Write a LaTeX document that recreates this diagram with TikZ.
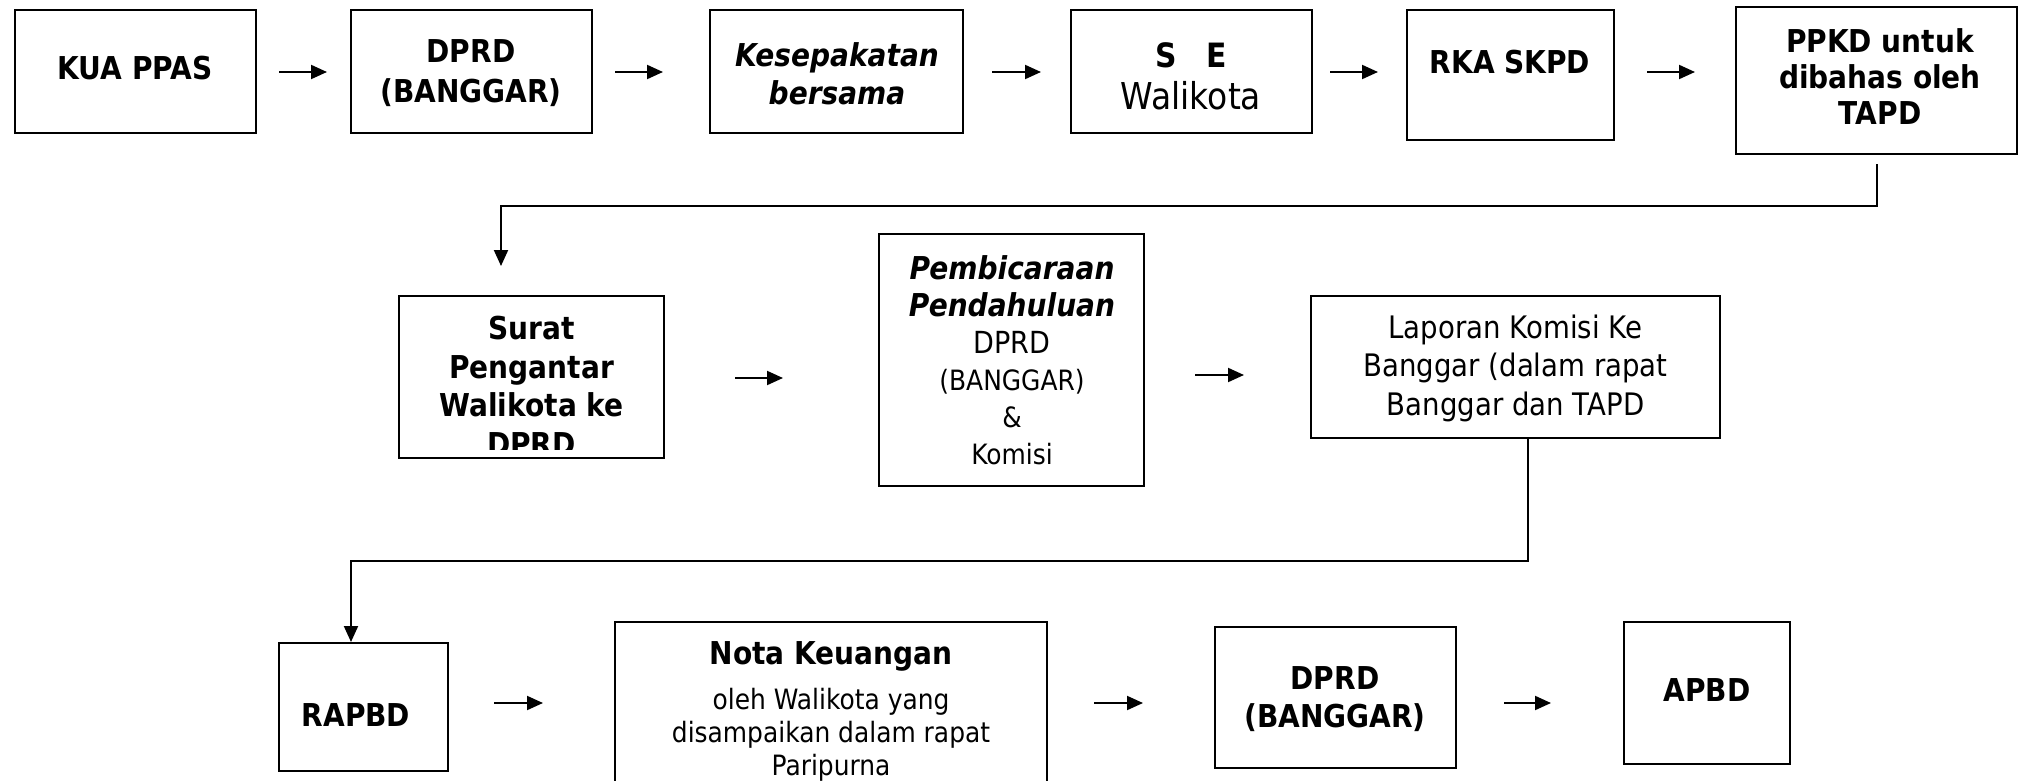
\documentclass[tikz,border=0pt]{standalone}
\usepackage{fontspec}
\setmainfont{DejaVu Sans}[FakeStretch=0.89]
\usetikzlibrary{arrows.meta}
\newcommand\flowbox[5]{\node[boxst, minimum width={(#4-#2)*1pt}, minimum height={(#5-#3)*1pt}] (#1) at ({(#2+#4)/2},{(#3+#5)/2}) {};}
\begin{document}
\begin{tikzpicture}[x=1pt,y=-1pt,
  boxst/.style={draw=black, line width=2pt, inner sep=0pt, fill=white},
  txt/.style={align=center, inner sep=0pt, text=black},
  bfbig/.style={txt, font=\fontsize{31.5}{38}\selectfont\bfseries},
  conn/.style={draw=black, line width=2pt},
  arr/.style={conn, -{Triangle[length=16pt,width=14pt]}}]
\path[fill=white] (0,0) rectangle (2018,781);
\useasboundingbox (0,0) rectangle (2018,781);

% ---------- boxes ----------
\flowbox{kua}{15}{10}{256}{133}
\flowbox{dprdA}{351}{10}{592}{133}
\flowbox{kes}{710}{10}{963}{133}
\flowbox{se}{1071}{10}{1312}{133}
\flowbox{rka}{1407}{10}{1614}{140}
\flowbox{ppkd}{1736}{7}{2017}{154}
\flowbox{surat}{399}{296}{664}{458}
\flowbox{pemb}{879}{234}{1144}{486}
\flowbox{lap}{1311}{296}{1720}{438}
\flowbox{rapbd}{279}{643}{448}{771}
\flowbox{nota}{615}{622}{1047}{795}
\flowbox{dprdB}{1215}{627}{1456}{768}
\flowbox{apbd}{1624}{622}{1790}{764}

% ---------- texts ----------
\node[bfbig] (kuaT) at (135,68) {KUA PPAS};
\node[txt, font=\fontsize{31.5}{40}\selectfont\bfseries] (dprdAT) at (471,73) {DPRD\\(BANGGAR)};
\node[txt, font=\fontsize{31.5}{38}\selectfont\bfseries\itshape] (kesT) at (837,74) {Kesepakatan\\bersama};
\node[txt, font=\fontsize{37}{42}\selectfont] (seT) at (1191,76) {{\fontsize{33.5}{40}\selectfont\bfseries S\hspace{30pt}E}\\Walikota};
\node[bfbig] (rkaT) at (1510,62) {RKA SKPD};
\node[txt, font=\fontsize{31.5}{36}\selectfont\bfseries] (ppkdT) at (1880,77) {PPKD untuk\\dibahas oleh\\TAPD};
\begin{scope}
  \clip (401,298) rectangle (662,449);
  \node[txt, font=\fontsize{31.5}{38.5}\selectfont\bfseries] (suratT) at (531.5,386) {Surat\\Pengantar\\Walikota ke\\DPRD};
\end{scope}
\node[txt, font=\fontsize{28}{37}\selectfont] (pembT) at (1012,360) {{\fontsize{31.5}{37}\selectfont\bfseries\itshape Pembicaraan}\\{\fontsize{31.5}{37}\selectfont\bfseries\itshape Pendahuluan}\\{\fontsize{30.4}{37}\selectfont DPRD}\\(BANGGAR)\\\&\\Komisi};
\node[txt, font=\fontsize{31}{38.5}\selectfont] (lapT) at (1515.5,368) {Laporan Komisi Ke\\Banggar (dalam rapat\\Banggar dan TAPD};
\node[bfbig] (rapbdT) at (356,715) {RAPBD};
\node[txt, font=\fontsize{28}{33}\selectfont] (notaT) at (831,711) {{\fontsize{31.5}{34}\selectfont\bfseries Nota Keuangan}\\[12pt]oleh Walikota yang\\disampaikan dalam rapat\\Paripurna};
\node[txt, font=\fontsize{31.5}{38}\selectfont\bfseries] (dprdBT) at (1335,699) {DPRD\\(BANGGAR)};
\node[bfbig] (apbdT) at (1707,690) {APBD};

% ---------- short arrows ----------
\foreach \n/\xa/\xb/\yy in {a1/279/327/72, a2/615/663/72, a3/992/1041/72, a4/1330/1378/72, a5/1647/1695/72,
  a6/735/783/378, a7/1195/1244/375, a8/494/543/703, a9/1094/1143/703, a10/1504/1551/703}{
  \coordinate (\n s) at (\xa,\yy);
  \coordinate (\n e) at (\xb,\yy);
  \draw[arr] (\n s) -- (\n e);
}

% ---------- long connectors ----------
\coordinate (k1) at (501,206);
\coordinate (k1e) at (501,266);
\draw[arr] ([yshift=-9pt]ppkd.south) |- (k1) -- (k1e);

\coordinate (l0) at (1528,438);
\coordinate (k2) at (351,561);
\draw[arr] (l0) |- (k2) -- (k2 |- rapbd.north);
\end{tikzpicture}
\end{document}
